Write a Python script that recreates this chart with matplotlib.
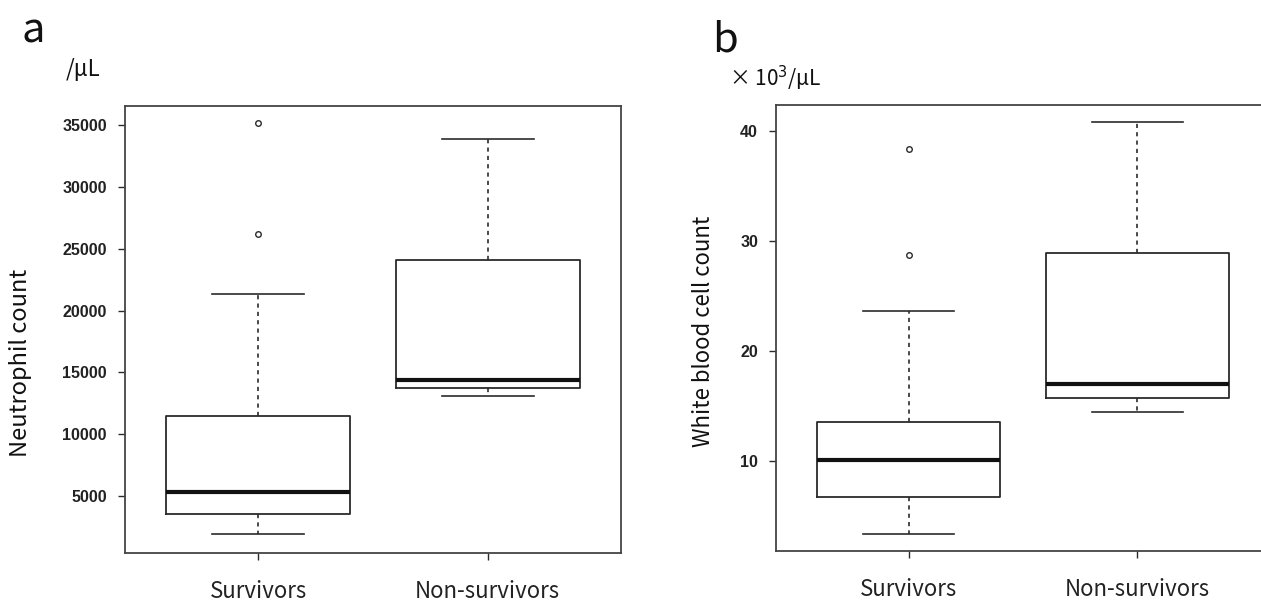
import matplotlib
matplotlib.use("Agg")
import matplotlib.pyplot as plt

# group labels
groups = ["Survivors", "Non-survivors"]

# panel a: neutrophil count (/uL)
neut_whislo = [1900, 13100]
neut_q1 = [3550, 13750]
neut_med = [5350, 14350]
neut_q3 = [11500, 24050]
neut_whishi = [21350, 33850]
neut_fliers = [[26200, 35150], []]
neut_ticks = [5000, 10000, 15000, 20000, 25000, 30000, 35000]

# panel b: white blood cell count (x10^3/uL)
wbc_whislo = [3.3, 14.4]
wbc_q1 = [6.7, 15.7]
wbc_med = [10.05, 17.0]
wbc_q3 = [13.55, 28.85]
wbc_whishi = [23.6, 40.75]
wbc_fliers = [[28.7, 38.3], []]
wbc_ticks = [10, 20, 30, 40]

INK = "#2b2b2b"
TICK_FONT = ["Liberation Sans Narrow", "Liberation Sans", "DejaVu Sans"]
TEXT_FONT = ["Noto Sans CJK JP", "DejaVu Sans"]


def make_stats(whislo, q1, med, q3, whishi, fliers):
    stats = []
    for i in range(len(med)):
        stats.append({
            "whislo": whislo[i], "q1": q1[i], "med": med[i],
            "q3": q3[i], "whishi": whishi[i], "fliers": fliers[i],
        })
    return stats


def draw_panel(ax, stats, ticks, ylim):
    ax.bxp(stats, positions=[1, 2], widths=0.8, capwidths=0.4,
           boxprops=dict(color=INK, linewidth=1.3),
           whiskerprops=dict(color=INK, linewidth=1.2, linestyle=(0, (2.5, 2.5))),
           capprops=dict(color=INK, linewidth=1.2),
           medianprops=dict(color="#111111", linewidth=3.0),
           flierprops=dict(marker="o", markerfacecolor="none",
                           markeredgecolor=INK, markersize=4, markeredgewidth=1.0))
    ax.set_xlim(0.42, 2.58)
    ax.set_ylim(*ylim)
    ax.set_yticks(ticks)
    ax.set_yticklabels([str(t) for t in ticks], fontfamily=TICK_FONT,
                       fontweight="bold", fontsize=11.5, color="#222222")
    ax.set_xticks([1, 2])
    ax.set_xticklabels(groups, fontfamily=TEXT_FONT, fontsize=16, color="#222222")
    ax.tick_params(axis="y", length=5, width=1.0, color=INK, pad=8)
    ax.tick_params(axis="x", length=5, width=1.0, color=INK, pad=14.5)
    for sp in ax.spines.values():
        sp.set_color("#444444")
        sp.set_linewidth(1.3)


fig = plt.figure(figsize=(12.61, 6.02), dpi=100)

ax_a = fig.add_axes([0.0991, 0.0814, 0.3933, 0.7425])
draw_panel(ax_a, make_stats(neut_whislo, neut_q1, neut_med, neut_q3, neut_whishi, neut_fliers),
           neut_ticks, (400, 36530))

ax_b = fig.add_axes([0.6154, 0.0847, 0.3917, 0.7409])
draw_panel(ax_b, make_stats(wbc_whislo, wbc_q1, wbc_med, wbc_q3, wbc_whishi, wbc_fliers),
           wbc_ticks, (1.79, 42.34))

# panel letters, units, axis titles
fig.text(0.017, 0.948, "a", fontsize=30, fontfamily=TEXT_FONT, va="center", ha="left", color="#111111")
fig.text(0.565, 0.933, "b", fontsize=30, fontfamily=TEXT_FONT, va="center", ha="left", color="#111111")
fig.text(0.052, 0.884, "/μL", fontsize=16, fontfamily=TEXT_FONT, va="center", ha="left", color="#111111")
fig.text(0.578, 0.869, "× 10$^3$/μL", fontsize=15, fontfamily=TEXT_FONT, va="center", ha="left", color="#111111")
fig.text(0.016, 0.397, "Neutrophil count", rotation=90, fontsize=17, fontfamily=TEXT_FONT,
         va="center", ha="center", color="#111111")
fig.text(0.5575, 0.45, "White blood cell count", rotation=90, fontsize=16, fontfamily=TEXT_FONT,
         va="center", ha="center", color="#111111")

fig.savefig("out.png", dpi=100, facecolor="white")
